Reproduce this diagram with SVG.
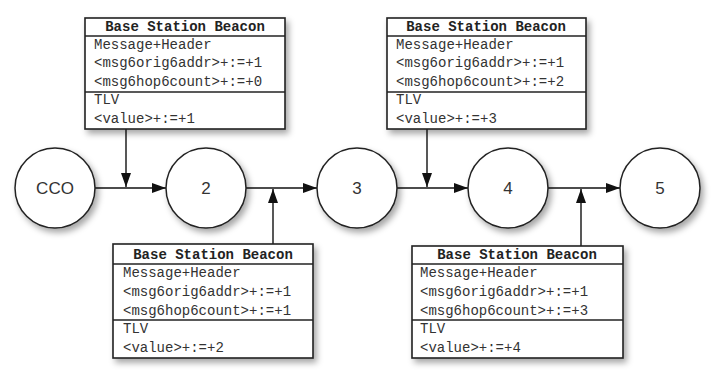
<svg xmlns="http://www.w3.org/2000/svg" width="719" height="373" viewBox="0 0 719 373">
  <defs>
    <filter id="shadow" x="-20%" y="-20%" width="150%" height="150%">
      <feDropShadow dx="3" dy="4" stdDeviation="3" flood-color="#000" flood-opacity="0.35"/>
    </filter>
    <marker id="arrow" viewBox="0 0 14 10" refX="14" refY="5" markerWidth="14" markerHeight="10" markerUnits="userSpaceOnUse" orient="auto">
      <path d="M0,0 L14,5 L0,10 Z" fill="#111"/>
    </marker>
  </defs>
  <style>
    .box { fill: #fff; stroke: #222; stroke-width: 1.6; }
    .sep { stroke: #222; stroke-width: 1.6; }
    .node { fill: #fff; stroke: #222; stroke-width: 1.5; }
    .mono { font-family: "Liberation Mono", "DejaVu Sans Mono", monospace; font-size: 14px; fill: #333; }
    .title { font-weight: bold; fill: #222; }
    .lbl { font-family: "Liberation Sans", Arial, sans-serif; font-size: 17px; fill: #333; text-anchor: middle; }
    .edge { stroke: #111; stroke-width: 1.4; fill: none; marker-end: url(#arrow); }
  </style>

  <rect width="719" height="373" fill="#fff"/>

  <!-- connectors -->
  <g id="connectors">
    <line class="edge" x1="95" y1="188" x2="166" y2="188"/>
    <line class="edge" x1="246" y1="188" x2="317" y2="188"/>
    <line class="edge" x1="397" y1="188" x2="468" y2="188"/>
    <line class="edge" x1="548" y1="188" x2="620" y2="188"/>
    <line class="edge" x1="126" y1="129" x2="126" y2="187"/>
    <line class="edge" x1="273" y1="244" x2="273" y2="189"/>
    <line class="edge" x1="427" y1="129" x2="427" y2="187"/>
    <line class="edge" x1="581" y1="246" x2="581" y2="189"/>
  </g>

  <!-- route nodes -->
  <g id="node-cco">
    <circle class="node" cx="55" cy="188" r="40" filter="url(#shadow)"/>
    <text class="lbl" x="55" y="194">CCO</text>
  </g>
  <g id="node-2">
    <circle class="node" cx="206" cy="188" r="40" filter="url(#shadow)"/>
    <text class="lbl" x="206" y="194">2</text>
  </g>
  <g id="node-3">
    <circle class="node" cx="357" cy="188" r="40" filter="url(#shadow)"/>
    <text class="lbl" x="357" y="194">3</text>
  </g>
  <g id="node-4">
    <circle class="node" cx="508" cy="188" r="40" filter="url(#shadow)"/>
    <text class="lbl" x="508" y="194">4</text>
  </g>
  <g id="node-5">
    <circle class="node" cx="660" cy="188" r="40" filter="url(#shadow)"/>
    <text class="lbl" x="660" y="194">5</text>
  </g>

  <!-- beacon 1 -->
  <g id="beacon-1">
    <rect class="box" x="85" y="18" width="200" height="111" filter="url(#shadow)"/>
    <line class="sep" x1="85" y1="36" x2="285" y2="36"/>
    <line class="sep" x1="85" y1="92" x2="285" y2="92"/>
    <text class="mono title" x="185" y="31" text-anchor="middle">Base Station Beacon</text>
    <text class="mono" x="94" y="49">Message+Header</text>
    <text class="mono" x="94" y="67">&lt;msg6orig6addr&gt;+:=+1</text>
    <text class="mono" x="94" y="86">&lt;msg6hop6count&gt;+:=+0</text>
    <text class="mono" x="94" y="104">TLV</text>
    <text class="mono" x="94" y="123">&lt;value&gt;+:=+1</text>
  </g>

  <!-- beacon 2 -->
  <g id="beacon-2">
    <rect class="box" x="113" y="244" width="200" height="114" filter="url(#shadow)"/>
    <line class="sep" x1="113" y1="264" x2="313" y2="264"/>
    <line class="sep" x1="113" y1="320" x2="313" y2="320"/>
    <text class="mono title" x="213" y="259" text-anchor="middle">Base Station Beacon</text>
    <text class="mono" x="123" y="277">Message+Header</text>
    <text class="mono" x="123" y="296">&lt;msg6orig6addr&gt;+:=+1</text>
    <text class="mono" x="123" y="315">&lt;msg6hop6count&gt;+:=+1</text>
    <text class="mono" x="123" y="333">TLV</text>
    <text class="mono" x="123" y="352">&lt;value&gt;+:=+2</text>
  </g>

  <!-- beacon 3 -->
  <g id="beacon-3">
    <rect class="box" x="387" y="18" width="199" height="111" filter="url(#shadow)"/>
    <line class="sep" x1="387" y1="36" x2="586" y2="36"/>
    <line class="sep" x1="387" y1="92" x2="586" y2="92"/>
    <text class="mono title" x="486" y="31" text-anchor="middle">Base Station Beacon</text>
    <text class="mono" x="396" y="49">Message+Header</text>
    <text class="mono" x="396" y="67">&lt;msg6orig6addr&gt;+:=+1</text>
    <text class="mono" x="396" y="86">&lt;msg6hop6count&gt;+:=+2</text>
    <text class="mono" x="396" y="104">TLV</text>
    <text class="mono" x="396" y="123">&lt;value&gt;+:=+3</text>
  </g>

  <!-- beacon 4 -->
  <g id="beacon-4">
    <rect class="box" x="412" y="246" width="211" height="112" filter="url(#shadow)"/>
    <line class="sep" x1="412" y1="264" x2="623" y2="264"/>
    <line class="sep" x1="412" y1="320" x2="623" y2="320"/>
    <text class="mono title" x="517" y="259" text-anchor="middle">Base Station Beacon</text>
    <text class="mono" x="420" y="277">Message+Header</text>
    <text class="mono" x="420" y="296">&lt;msg6orig6addr&gt;+:=+1</text>
    <text class="mono" x="420" y="315">&lt;msg6hop6count&gt;+:=+3</text>
    <text class="mono" x="420" y="333">TLV</text>
    <text class="mono" x="420" y="352">&lt;value&gt;+:=+4</text>
  </g>
</svg>
